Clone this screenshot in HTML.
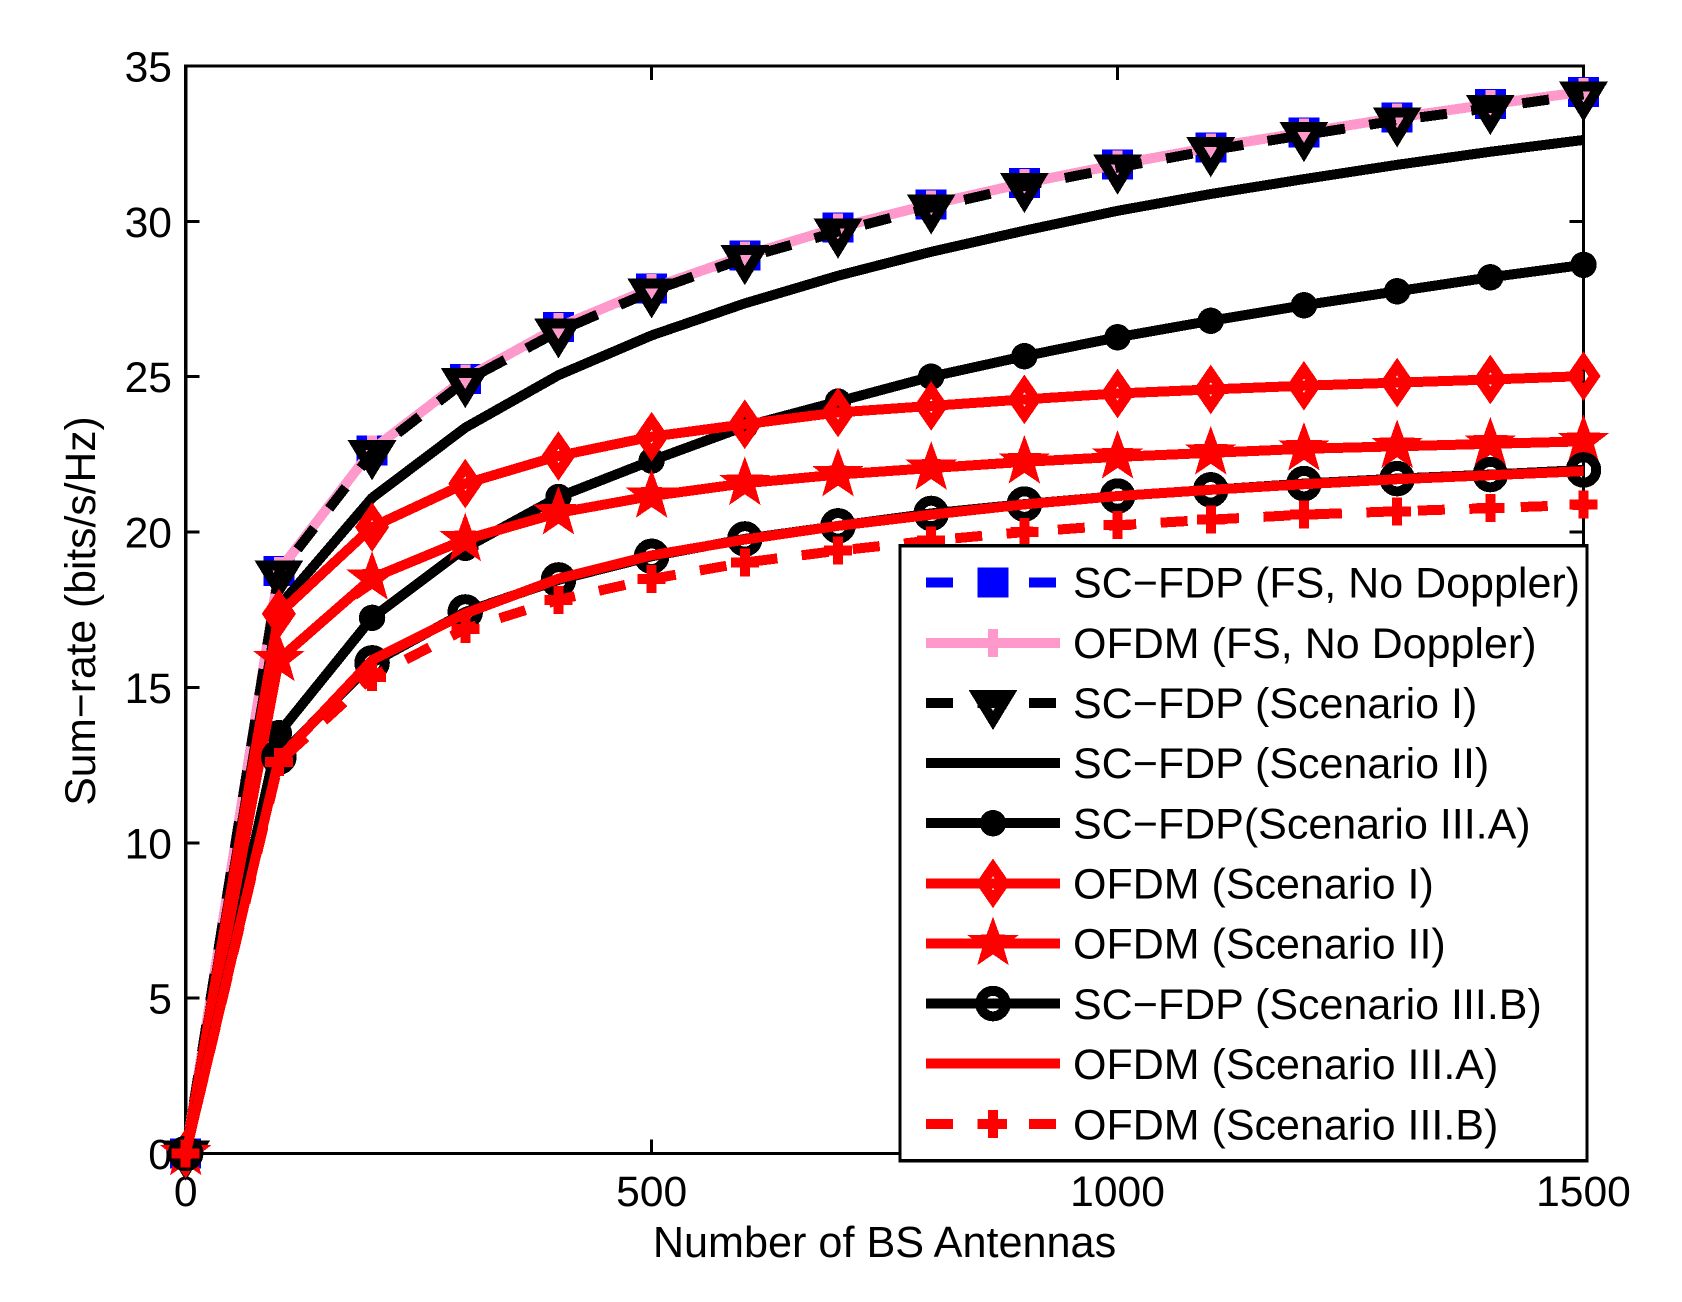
<!DOCTYPE html>
<html lang="en">
<head>
<meta charset="utf-8">
<title>Sum-rate vs Number of BS Antennas</title>
<style>
  html, body { margin: 0; padding: 0; background: #fff; }
  svg { display: block; }
  text { font-family: "Liberation Sans", Arial, sans-serif; font-size: 42.6px; fill: #000; }
  .axis-title { font-size: 43.2px; }
  .legend-text { font-size: 43px; }
</style>
</head>
<body>
<svg id="chart" xmlns="http://www.w3.org/2000/svg" width="1682" height="1302" viewBox="0 0 1682 1302" shape-rendering="crispEdges">
  <rect x="0" y="0" width="1682" height="1302" fill="#fff"></rect>
  <g id="axes"></g>
  <g id="plot"></g>
  <text class="axis-title" x="884.5" y="1257" text-anchor="middle">Number of BS Antennas</text>
  <text transform="translate(95,611) rotate(-90)" text-anchor="middle">Sum−rate (bits/s/Hz)</text>
  <g>
    <rect x="900" y="545.8" width="687" height="615" fill="#fff" stroke="#000" stroke-width="3.4"></rect>
    <g id="legend-samples"></g>
    <text class="legend-text" x="1073" y="597.7">SC−FDP (FS, No Doppler)</text>
    <text class="legend-text" x="1073" y="657.9">OFDM (FS, No Doppler)</text>
    <text class="legend-text" x="1073" y="718">SC−FDP (Scenario I)</text>
    <text class="legend-text" x="1073" y="778.2">SC−FDP (Scenario II)</text>
    <text class="legend-text" x="1073" y="838.3">SC−FDP(Scenario III.A)</text>
    <text class="legend-text" x="1073" y="898.5">OFDM (Scenario I)</text>
    <text class="legend-text" x="1073" y="958.6">OFDM (Scenario II)</text>
    <text class="legend-text" x="1073" y="1018.8">SC−FDP (Scenario III.B)</text>
    <text class="legend-text" x="1073" y="1079.2">OFDM (Scenario III.A)</text>
    <text class="legend-text" x="1073" y="1139.4">OFDM (Scenario III.B)</text>
  </g>
</svg>
<script>
// ---- chart data ----
const antennas = [0,100,200,300,400,500,600,700,800,900,1000,1100,1200,1300,1400,1500];
const scFdpFs = [0,18.75,22.63,24.93,26.6,27.84,28.9,29.8,30.55,31.23,31.83,32.38,32.86,33.34,33.77,34.17];
const ofdmFs = [0,18.75,22.65,24.95,26.6,27.85,28.9,29.8,30.55,31.23,31.83,32.38,32.86,33.34,33.77,34.17];
const scFdpScenario1 = [0,18.67,22.54,24.86,26.46,27.75,28.82,29.67,30.45,31.14,31.73,32.29,32.78,33.25,33.65,34.08];
const scFdpScenario2 = [0,17.6,21.1,23.36,25.05,26.33,27.36,28.25,29.02,29.7,30.34,30.88,31.36,31.82,32.24,32.62];
const scFdpScenario3A = [0,13.53,17.24,19.49,21.13,22.3,23.4,24.2,25.0,25.66,26.27,26.8,27.3,27.75,28.2,28.6];
const ofdmScenario1 = [0,17.37,20.16,21.56,22.45,23.07,23.47,23.85,24.06,24.27,24.46,24.59,24.71,24.81,24.91,25.02];
const ofdmScenario2 = [0,15.9,18.52,19.76,20.62,21.16,21.57,21.85,22.06,22.26,22.42,22.55,22.68,22.76,22.84,22.92];
const scFdpScenario3B = [0,12.76,15.79,17.43,18.46,19.22,19.78,20.2,20.6,20.9,21.16,21.36,21.56,21.72,21.85,22.0];
const ofdmScenario3A = [0,12.7,15.88,17.38,18.5,19.25,19.76,20.2,20.56,20.89,21.16,21.36,21.54,21.7,21.83,21.96];
const ofdmScenario3B = [0,12.6,15.34,16.88,17.82,18.49,19.02,19.4,19.73,20.0,20.22,20.4,20.56,20.67,20.77,20.88];
const xTickLabels = [0,500,1000,1500];
const yTickLabels = [0,5,10,15,20,25,30,35];

// ---- axis functions ----
const X_LEFT = 185.7, X_RIGHT = 1583.5, Y_BOTTOM = 1153.5, Y_TOP = 66;
const X_MAX = 1500, Y_MAX = 35;
function xScale(v) { return X_LEFT + (v / X_MAX) * (X_RIGHT - X_LEFT); }
function yScale(v) { return Y_BOTTOM - (v / Y_MAX) * (Y_BOTTOM - Y_TOP); }

const NS = 'http://www.w3.org/2000/svg';
const BLUE = '#0000ff', PINK = '#ff99cc', BLACK = '#000000', RED = '#ff0000';
const LINE_W = 10;

const seriesList = [
  { key: 'sc-fdp-fs',  values: scFdpFs,         color: BLUE,  dashed: true,  marker: 'square' },
  { key: 'ofdm-fs',    values: ofdmFs,          color: PINK,  dashed: false, marker: 'plus' },
  { key: 'sc-fdp-1',   values: scFdpScenario1,  color: BLACK, dashed: true,  marker: 'triangle' },
  { key: 'sc-fdp-2',   values: scFdpScenario2,  color: BLACK, dashed: false, marker: 'none' },
  { key: 'sc-fdp-3a',  values: scFdpScenario3A, color: BLACK, dashed: false, marker: 'dot' },
  { key: 'ofdm-1',     values: ofdmScenario1,   color: RED,   dashed: false, marker: 'diamond' },
  { key: 'ofdm-2',     values: ofdmScenario2,   color: RED,   dashed: false, marker: 'star' },
  { key: 'sc-fdp-3b',  values: scFdpScenario3B, color: BLACK, dashed: false, marker: 'ring' },
  { key: 'ofdm-3a',    values: ofdmScenario3A,  color: RED,   dashed: false, marker: 'none' },
  { key: 'ofdm-3b',    values: ofdmScenario3B,  color: RED,   dashed: true,  marker: 'plus' }
];

function make(tag, attrs, parent) {
  const el = document.createElementNS(NS, tag);
  for (const k in attrs) el.setAttribute(k, attrs[k]);
  parent.appendChild(el);
  return el;
}

function drawMarker(parent, type, cx, cy, color, name) {
  let el = null;
  if (type === 'square') {
    el = make('rect', { x: cx - 15.5, y: cy - 15, width: 31, height: 30, fill: color }, parent);
  } else if (type === 'plus') {
    const h = 14;
    el = make('path', {
      d: 'M' + (cx - h) + ' ' + cy + 'H' + (cx + h) + 'M' + cx + ' ' + (cy - h) + 'V' + (cy + h),
      fill: 'none', stroke: color, 'stroke-width': LINE_W
    }, parent);
  } else if (type === 'triangle') {
    el = make('polygon', {
      points: (cx - 15.5) + ',' + (cy - 8) + ' ' + (cx + 15.5) + ',' + (cy - 8) + ' ' + cx + ',' + (cy + 17.5),
      fill: 'none', stroke: color, 'stroke-width': LINE_W, 'stroke-miterlimit': 6
    }, parent);
  } else if (type === 'dot') {
    el = make('circle', { cx: cx, cy: cy, r: 13.2, fill: color }, parent);
  } else if (type === 'diamond') {
    el = make('polygon', {
      points: cx + ',' + (cy - 16) + ' ' + (cx + 11) + ',' + cy + ' ' + cx + ',' + (cy + 16) + ' ' + (cx - 11) + ',' + cy,
      fill: 'none', stroke: color, 'stroke-width': LINE_W, 'stroke-miterlimit': 6
    }, parent);
  } else if (type === 'star') {
    const outer = 26.9, inner = 11;
    let pts = '';
    for (let i = 0; i < 10; i++) {
      const rad = i % 2 === 0 ? outer : inner;
      const ang = -Math.PI / 2 + i * Math.PI / 5;
      pts += (cx + rad * Math.cos(ang)) + ',' + (cy + rad * Math.sin(ang)) + ' ';
    }
    el = make('polygon', { points: pts.trim(), fill: color }, parent);
  } else if (type === 'ring') {
    el = make('circle', { cx: cx, cy: cy, r: 12.75, fill: 'none', stroke: color, 'stroke-width': LINE_W }, parent);
  }
  if (el) {
    
    
  }
}

// ---- axes ----
const axes = document.getElementById('axes');
const frame = make('rect', {
  x: X_LEFT, y: Y_TOP, width: X_RIGHT - X_LEFT, height: Y_BOTTOM - Y_TOP,
  fill: 'none', stroke: '#000', 'stroke-width': 3.2
}, axes);



xTickLabels.forEach(function (t) {
  const px = xScale(t);
  const tickBottom = make('line', { x1: px, x2: px, y1: Y_BOTTOM, y2: Y_BOTTOM - 14, stroke: '#000', 'stroke-width': 3 }, axes);
  
  
  const tickTop = make('line', { x1: px, x2: px, y1: Y_TOP, y2: Y_TOP + 14, stroke: '#000', 'stroke-width': 3 }, axes);
  
  
  const label = make('text', { x: px, y: 1206, 'text-anchor': 'middle' }, axes);
  label.textContent = String(t);
  
  
});

yTickLabels.forEach(function (t) {
  const py = yScale(t);
  const tickLeft = make('line', { x1: X_LEFT, x2: X_LEFT + 14, y1: py, y2: py, stroke: '#000', 'stroke-width': 3 }, axes);
  
  
  const tickRight = make('line', { x1: X_RIGHT, x2: X_RIGHT - 14, y1: py, y2: py, stroke: '#000', 'stroke-width': 3 }, axes);
  
  
  const label = make('text', { x: 172, y: py + 15.5, 'text-anchor': 'end' }, axes);
  label.textContent = String(t);
  
  
});

// ---- series ----
const plot = document.getElementById('plot');
seriesList.forEach(function (s) {
  const group = make('g', {}, plot);
  
  
  const pts = s.values.map(function (v, i) { return xScale(antennas[i]) + ',' + yScale(v); }).join(' ');
  const line = make('polyline', {
    points: pts, fill: 'none', stroke: s.color, 'stroke-width': LINE_W, 'stroke-linejoin': 'round'
  }, group);
  if (s.dashed) line.setAttribute('stroke-dasharray', '27 24.5');
  
  
  s.values.forEach(function (v, i) {
    drawMarker(group, s.marker, xScale(antennas[i]), yScale(v), s.color, 'marker-' + s.key + '-' + antennas[i]);
  });
});

// ---- legend samples ----
const LEGEND_FIRST_Y = 582.7, LEGEND_STEP = 60.13, LEGEND_X1 = 926, LEGEND_X2 = 1060;
const legendSamples = document.getElementById('legend-samples');
seriesList.forEach(function (s, i) {
  const y = LEGEND_FIRST_Y + i * LEGEND_STEP;
  const sample = make('line', { x1: LEGEND_X1, x2: LEGEND_X2, y1: y, y2: y, stroke: s.color, 'stroke-width': LINE_W }, legendSamples);
  if (s.dashed) sample.setAttribute('stroke-dasharray', '27 24.5');
  
  
  drawMarker(legendSamples, s.marker, (LEGEND_X1 + LEGEND_X2) / 2, y, s.color, 'legend-marker-' + s.key);
});
</script>
</body>
</html>
